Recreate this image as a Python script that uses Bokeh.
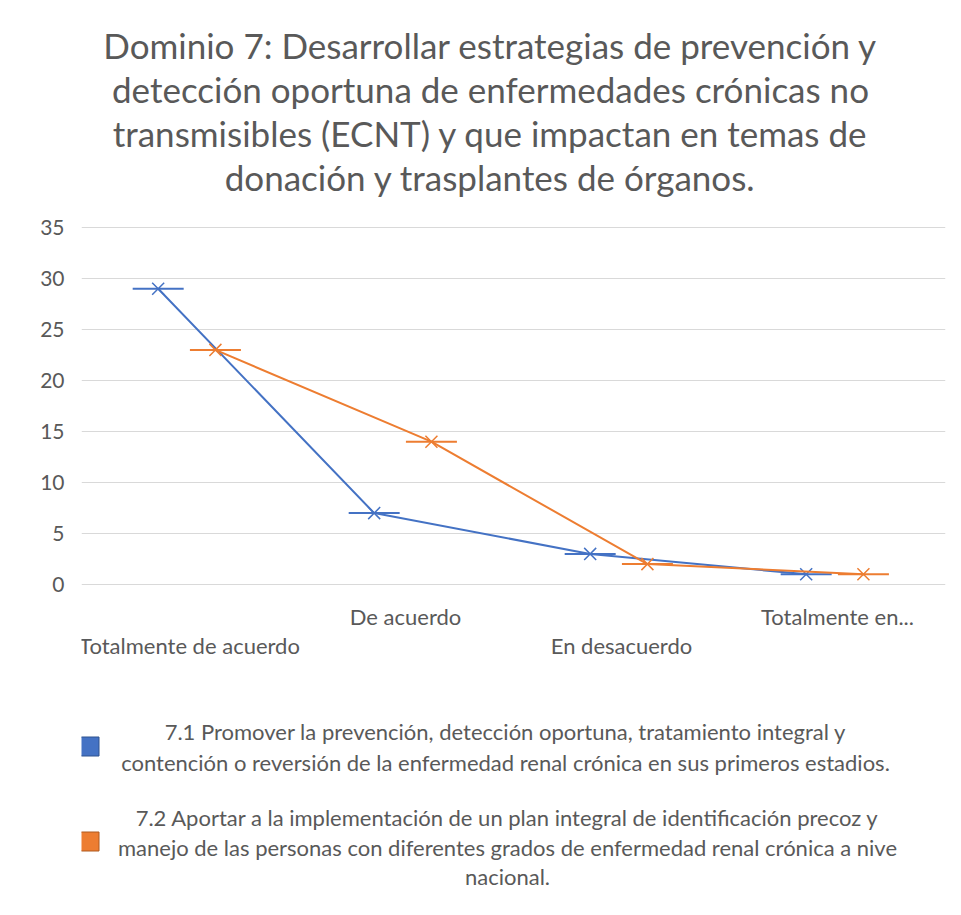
from bokeh.plotting import figure
from bokeh.models import Range1d, FixedTicker
from bokeh.core.properties import value
from bokeh.embed import file_html
from bokeh.resources import INLINE

# ---------------- data ----------------
title_lines = [
    "Dominio 7: Desarrollar estrategias de prevención y",
    "detección oportuna de enfermedades crónicas no",
    "transmisibles (ECNT) y que impactan en temas de",
    "donación y trasplantes de órganos.",
]
categories = ["Totalmente de acuerdo", "De acuerdo", "En desacuerdo", "Totalmente en..."]
series1_values = [29, 7, 3, 1]
series2_values = [23, 14, 2, 1]
series1_label = [
    "7.1 Promover la prevención, detección oportuna, tratamiento integral y",
    "contención o reversión de la enfermedad renal crónica en sus primeros estadios.",
]
series2_label = [
    "7.2 Aportar a la implementación de un plan integral de identificación precoz y",
    "manejo de las personas con diferentes grados de enfermedad renal crónica a nive",
    "nacional.",
]
y_ticks = [0, 5, 10, 15, 20, 25, 30, 35]

# ---------------- layout helpers (pixels -> data) ----------------
W, H = 953, 907
FRAME_L, FRAME_R = 81, 945
PX_PER_CAT = (FRAME_R - FRAME_L) / len(categories)
Y0_PX, PX_PER_UNIT = 584, 10.2


def px_x(p):
    return -0.5 + (p - FRAME_L) / PX_PER_CAT


def px_y(p):
    return (Y0_PX - p) / PX_PER_UNIT


BLUE, ORANGE = "#4472C4", "#ED7D31"
GREY = "#595959"
FONT = value("Lato")

p = figure(
    width=W, height=H,
    x_range=Range1d(-0.5, 3.5),
    y_range=Range1d(px_y(H), px_y(0)),
    x_axis_location=None,
    min_border_left=FRAME_L, min_border_right=W - FRAME_R,
    min_border_top=0, min_border_bottom=0,
    toolbar_location=None, output_backend="svg",
    outline_line_color=None,
)
p.xgrid.visible = False
p.ygrid.grid_line_color = "#D9D9D9"
p.ygrid.grid_line_width = 1
p.yaxis.ticker = FixedTicker(ticks=y_ticks)
p.yaxis.axis_line_color = None
p.yaxis.major_tick_line_color = None
p.yaxis.major_tick_out = 0
p.yaxis.minor_tick_line_color = None
p.yaxis.major_label_text_font = "Lato"
p.yaxis.major_label_text_font_size = "21px"
p.yaxis.major_label_text_color = GREY
p.yaxis.major_label_standoff = 17

# series
idx = list(range(len(categories)))
x1 = [i - 0.145 for i in idx]
x2 = [i + 0.12 for i in idx]
for xs, ys, col in ((x1, series1_values, BLUE), (x2, series2_values, ORANGE)):
    p.line(xs, ys, line_color=col, line_width=2)
    p.scatter(xs, ys, marker="dash", size=51, line_color=col, line_width=2)
    p.scatter(xs, ys, marker="x", size=17, line_color=col, line_width=1.5)

# title
p.text(x=[px_x(490)] * 4, y=[px_y(v) for v in (44, 88, 132, 176)], text=title_lines,
       text_font=FONT, text_font_size="35px", text_color=GREY,
       text_align="center", text_baseline="middle")

# category labels (staggered like Excel)
p.text(x=idx, y=[px_y(645), px_y(616), px_y(645), px_y(616)], text=categories,
       text_font=FONT, text_font_size="22px", text_color=GREY,
       text_align="center", text_baseline="middle")

# legend
p.scatter([px_x(89)], [px_y(746)], marker="square", size=19,
          fill_color=BLUE, line_color="#2F528F", line_width=1)
p.scatter([px_x(89)], [px_y(841)], marker="square", size=19,
          fill_color=ORANGE, line_color="#AE5A21", line_width=1)
p.text(x=[px_x(505)] * 2, y=[px_y(731), px_y(762)], text=series1_label,
       text_font=FONT, text_font_size="22px", text_color=GREY,
       text_align="center", text_baseline="middle")
p.text(x=[px_x(507)] * 3, y=[px_y(817), px_y(847), px_y(876)], text=series2_label,
       text_font=FONT, text_font_size="22px", text_color=GREY,
       text_align="center", text_baseline="middle")

open("out.html", "w").write(file_html(p, INLINE))
